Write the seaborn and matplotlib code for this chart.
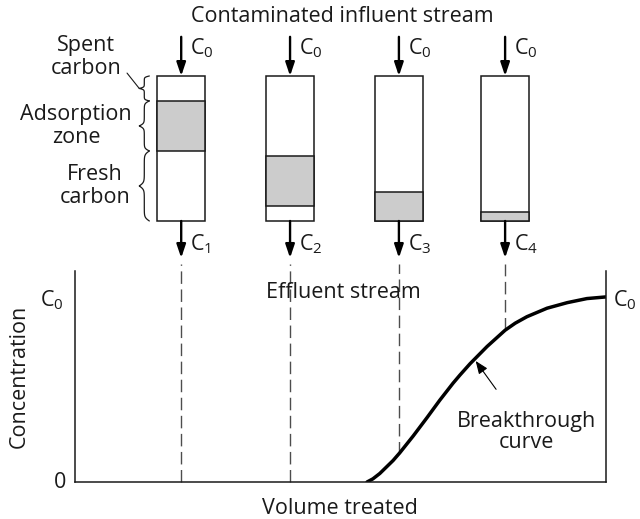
import numpy as np
import matplotlib
matplotlib.use("Agg")
import matplotlib.pyplot as plt
import seaborn as sns

# columns sampled along the volume axis
volumes = [2.0, 4.05, 6.1, 8.1]
influent_labels = [r"$\mathrm{C}_\mathrm{0}$"] * 4
effluent_labels = [r"$\mathrm{C}_\mathrm{1}$", r"$\mathrm{C}_\mathrm{2}$",
                   r"$\mathrm{C}_\mathrm{3}$", r"$\mathrm{C}_\mathrm{4}$"]
# adsorption zone as fraction of bed height (0 = bottom, 1 = top)
zone_bottom = [0.483, 0.103, 0.0, 0.0]
zone_top = [0.828, 0.448, 0.200, 0.062]

# breakthrough curve (volume treated, C/C0)
curve_volume = [5.50, 5.61, 5.74, 5.99, 6.12, 6.37, 6.63, 6.87, 7.12, 7.25,
                7.44, 7.76, 8.10, 8.29, 8.51, 8.89, 9.27, 9.64, 10.0]
curve_conc = [0.0, 0.017, 0.046, 0.116, 0.159, 0.249, 0.348, 0.442, 0.534, 0.578,
              0.639, 0.732, 0.820, 0.858, 0.893, 0.939, 0.969, 0.991, 1.0]

sns.set_style("white")
plt.rcParams['font.family'] = ['Open Sans', 'DejaVu Sans']
plt.rcParams['mathtext.fontset'] = 'custom'
plt.rcParams['mathtext.rm'] = 'Open Sans'
plt.rcParams['mathtext.it'] = 'Open Sans:italic'

W, H = 640, 519
FS = 15.5
fig = plt.figure(figsize=(6.4, 5.19), dpi=100)

# bottom: breakthrough plot
ax = fig.add_axes([75 / W, (H - 482) / H, 531 / W, 211 / H])
sns.lineplot(x=curve_volume, y=curve_conc, ax=ax, color='black', lw=2.5,
             solid_joinstyle='round')
ax.set_xlim(0, 10)
ax.set_ylim(0, 1.14)
ax.set_xticks([])
ax.set_yticks([])
ax.spines['top'].set_visible(False)
for s in ['left', 'bottom', 'right']:
    ax.spines[s].set_linewidth(1.1)
    ax.spines[s].set_color('#1a1a1a')

eff_conc = np.interp(volumes, curve_volume, curve_conc)
ax.vlines(volumes, eff_conc, 1.18, colors='#4d4d4d', lw=1.0,
          linestyles=(0, (9, 4)), clip_on=False, zorder=1)

ax.annotate("Breakthrough\ncurve", xy=(7.53, 0.66), xytext=(8.51, 0.27),
            ha='center', va='center', fontsize=FS, linespacing=1.05, color='#1a1a1a',
            arrowprops=dict(arrowstyle='-|>,head_width=0.2,head_length=0.5',
                            color='black', lw=0.8, shrinkA=16, shrinkB=1))

# top: carbon columns
ax_top = fig.add_axes([75 / W, (H - 271) / H, 531 / W, 271 / H], sharex=ax)
ax_top.set_ylim(-0.345, 1.524)
ax_top.axis('off')

col_width = 0.9
ax_top.bar(volumes, 1.0, width=col_width, bottom=0, color='white',
           edgecolor='#1a1a1a', lw=1.1)
ax_top.bar(volumes, np.array(zone_top) - np.array(zone_bottom), width=col_width,
           bottom=zone_bottom, color='#cccccc', edgecolor='#1a1a1a', lw=1.1)

for v, lin, lout in zip(volumes, influent_labels, effluent_labels):
    ax_top.annotate('', xy=(v, 1.0), xytext=(v, 1.27),
                    arrowprops=dict(arrowstyle='-|>,head_width=0.27,head_length=0.8',
                                    color='black', lw=1.7, shrinkA=0, shrinkB=0))
    ax_top.annotate('', xy=(v, -0.255), xytext=(v, 0.0),
                    arrowprops=dict(arrowstyle='-|>,head_width=0.27,head_length=0.8',
                                    color='black', lw=1.7, shrinkA=0, shrinkB=0))
    ax_top.text(v + 0.17, 1.19, lin, fontsize=FS, ha='left', va='center', color='#1a1a1a')
    ax_top.text(v + 0.17, -0.16, lout, fontsize=FS, ha='left', va='center', color='#1a1a1a')


def brace(y0, y1, xback, depth, k=40):
    t = np.linspace(0, 0.5, 60)
    half = 1 / (1 + np.exp(-k * (t - t[0]))) + 1 / (1 + np.exp(-k * (t - t[-1])))
    xs = np.concatenate([half, half[::-1]]) - 0.5
    ts = np.concatenate([t, t + 0.5])
    ax_top.plot(xback - depth * xs, y0 + (y1 - y0) * ts, color='#1a1a1a', lw=0.9)


xback = volumes[0] - col_width / 2 - 0.15
depth = 0.19
brace(zone_top[0], 1.0, xback, depth)
brace(zone_bottom[0], zone_top[0], xback, depth)
brace(0.0, zone_bottom[0], xback, depth)
ax_top.plot([0.98, xback - depth], [1.02, (zone_top[0] + 1.0) / 2],
            color='#1a1a1a', lw=0.8)

# text labels
tk = dict(fontsize=FS, color='#1a1a1a', ha='center', va='center')
fig.text(342 / W, 1 - 17 / H, "Contaminated influent stream", **tk)
fig.text(86 / W, 1 - 57 / H, "Spent\ncarbon", linespacing=1.1, **tk)
fig.text(76 / W, 1 - 126 / H, "Adsorption\nzone", linespacing=1.1, **tk)
fig.text(95 / W, 1 - 186 / H, "Fresh\ncarbon", linespacing=1.1, **tk)
fig.text(343 / W, 1 - 293 / H, "Effluent stream", **tk)
fig.text(340 / W, 1 - 508 / H, "Volume treated", **tk)
fig.text(19 / W, 1 - 376 / H, "Concentration", rotation=90, **tk)
fig.text(52 / W, 1 - 300 / H, r"$\mathrm{C}_\mathrm{0}$", **tk)
fig.text(60 / W, 1 - 482 / H, "0", **tk)
fig.text(625 / W, 1 - 300 / H, r"$\mathrm{C}_\mathrm{0}$", **tk)

fig.savefig("out.png", dpi=100, facecolor='white')
